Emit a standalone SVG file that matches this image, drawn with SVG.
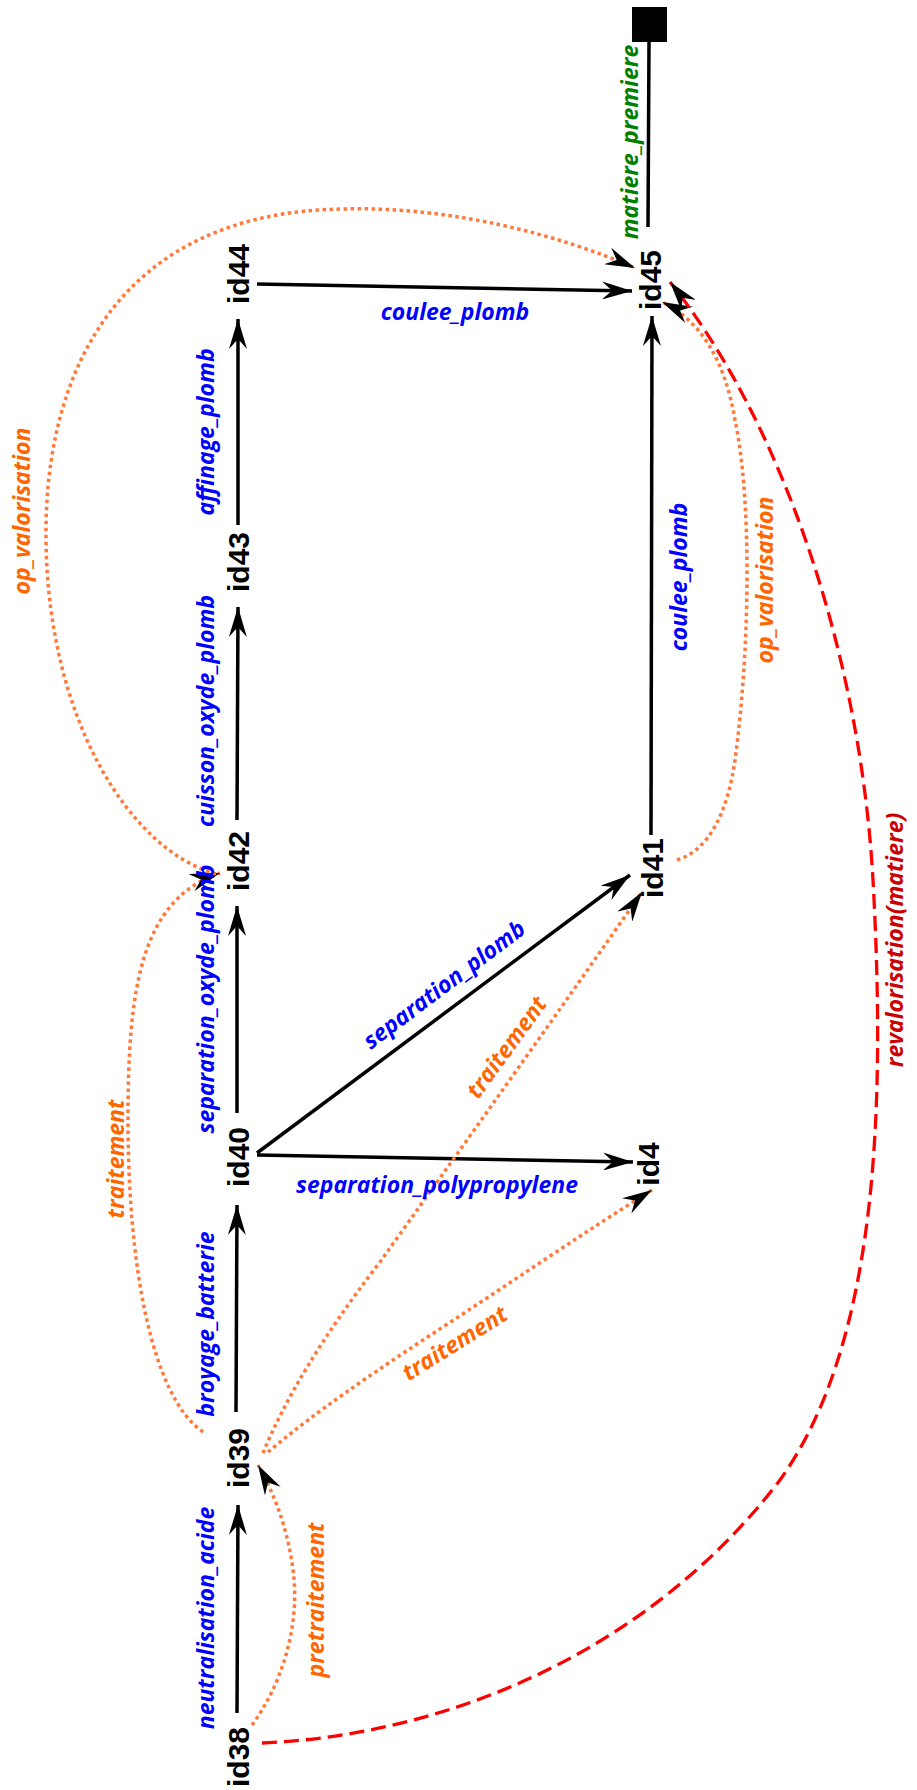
<svg xmlns="http://www.w3.org/2000/svg" width="917" height="1790" viewBox="0 0 917 1790">
<defs>
<marker id="ah" viewBox="0 0 30 18" refX="30" refY="9" markerWidth="30" markerHeight="18" markerUnits="userSpaceOnUse" orient="auto"><path d="M0,0 L30,9 L0,18 L10,9 Z" fill="#000"/></marker>
<style>
.e{fill:none;stroke:#000;stroke-width:3.5;marker-end:url(#ah)}
.d{fill:none;stroke:#ff7a3a;stroke-width:3.5;stroke-dasharray:3.5 3.5;marker-end:url(#ah)}
.r{fill:none;stroke:#f00;stroke-width:3.3;stroke-dasharray:15 7;marker-end:url(#ah)}
.n{font-family:"Liberation Sans",Arial,sans-serif;font-weight:bold;font-size:30px;fill:#000;text-anchor:middle}
.l{font-family:"Open Sans","Noto Sans",sans-serif;font-weight:bold;font-style:italic;font-size:23px;text-anchor:middle}
.b{fill:#00f}.o{fill:#f60}.g{fill:#008000}.dr{fill:#c00}
</style>
</defs>
<rect width="917" height="1790" fill="#fff"/>
<g id="connectors">
<path class="e" d="M237,1713 L238,1505"/>
<path class="e" d="M236,1412 L237,1205"/>
<path class="e" d="M237,1113 L237,906"/>
<path class="e" d="M237,820 L238,607"/>
<path class="e" d="M238,525 L238,319"/>
<path class="e" d="M257,284 L632,291"/>
<path class="e" d="M257,1153 L630,875"/>
<path class="e" d="M257,1155 L633,1162"/>
<path class="e" d="M651,835 L652,316"/>
<rect x="632" y="7" width="35" height="35" fill="#000"/>
<path d="M649,42 L648,227" fill="none" stroke="#000" stroke-width="3.5"/>
<path class="d" d="M252,1725 C285,1680 300,1620 293,1570 C288,1530 275,1495 258,1465"/>
<path class="d" d="M203,1432 C150,1395 128,1260 128,1120 C128,990 140,900 220,873"/>
<path class="d" d="M216,874 C130,850 48,720 46,540 C44,370 120,212 343,209 C450,206 560,235 635,268"/>
<path class="d" d="M263,1453 C285,1400 320,1340 380,1262 C460,1150 560,1010 642,892"/>
<path class="d" d="M268,1452 C300,1425 340,1395 420,1342 C500,1290 580,1235 652,1190"/>
<path class="d" d="M677,860 C710,850 728,810 735,760 C750,650 752,500 735,420 C725,360 700,320 662,302"/>
<path class="r" d="M262,1743 C450,1735 650,1650 780,1480 C880,1340 885,1100 873,880 C860,650 780,420 670,282"/>
</g>
<g id="edge-labels" class="l">
<text class="b" x="455" y="320">coulee_plomb</text>
<text class="b" x="437" y="1193">separation_polypropylene</text>
<text class="b" transform="translate(449,991) rotate(-37)">separation_plomb</text>
<text class="o" transform="translate(513,1052) rotate(-54)">traitement</text>
<text class="o" transform="translate(459,1350) rotate(-32)">traitement</text>
<text class="o" transform="translate(30,511) rotate(-90)">op_valorisation</text>
<text class="o" transform="translate(124,1159) rotate(-90)">traitement</text>
<text class="o" transform="translate(324,1600) rotate(-90)">pretraitement</text>
<text class="b" transform="translate(214,1618) rotate(-90)">neutralisation_acide</text>
<text class="b" transform="translate(214,1324) rotate(-90)">broyage_batterie</text>
<text class="b" transform="translate(214,999) rotate(-90)">separation_oxyde_plomb</text>
<text class="b" transform="translate(214,711) rotate(-90)">cuisson_oxyde_plomb</text>
<text class="b" transform="translate(214,432) rotate(-90)">affinage_plomb</text>
<text class="g" transform="translate(638,142) rotate(-90)">matiere_premiere</text>
<text class="dr" transform="translate(903,940) rotate(-90)">revalorisation(matiere)</text>
<text class="b" transform="translate(687,577) rotate(-90)">coulee_plomb</text>
<text class="o" transform="translate(773,580) rotate(-90)">op_valorisation</text>
</g>
<g id="id38"><text class="n" transform="translate(249,1757) rotate(-90)">id38</text></g>
<g id="id39"><text class="n" transform="translate(249,1458) rotate(-90)">id39</text></g>
<g id="id40"><text class="n" transform="translate(249,1157) rotate(-90)">id40</text></g>
<g id="id42"><text class="n" transform="translate(249,861) rotate(-90)">id42</text></g>
<g id="id43"><text class="n" transform="translate(249,562) rotate(-90)">id43</text></g>
<g id="id44"><text class="n" transform="translate(249,274) rotate(-90)">id44</text></g>
<g id="id45"><text class="n" transform="translate(661,280) rotate(-90)">id45</text></g>
<g id="id41"><text class="n" transform="translate(663,868) rotate(-90)">id41</text></g>
<g id="id4"><text class="n" transform="translate(659,1164) rotate(-90)">id4</text></g>
</svg>
